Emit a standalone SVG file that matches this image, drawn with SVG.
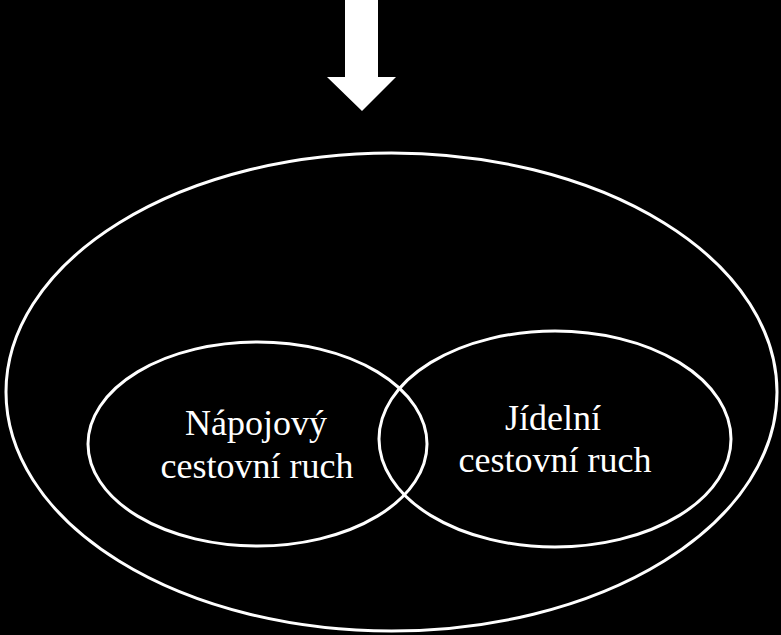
<svg xmlns="http://www.w3.org/2000/svg" width="781" height="635" viewBox="0 0 781 635">
<style>
.ring{fill:none;stroke:#fff;stroke-width:3}
.lbl{fill:#fff;font-family:'Liberation Serif','Times New Roman',serif;font-size:36px;text-anchor:middle}
</style>
<rect x="0" y="0" width="781" height="635" fill="#000"/>
<g id="arrow">
<polygon points="345,0 378,0 378,77 396,77 362,111 327,77 345,77" fill="#fff"/>
</g>
<g id="outer">
<ellipse class="ring" cx="391.5" cy="392" rx="385.5" ry="239"/>
</g>
<g id="napojovy">
<ellipse class="ring" cx="257.5" cy="444" rx="169.5" ry="102"/>
<text class="lbl" font-family="Liberation Serif, serif" x="256" y="435">Nápojový</text>
<text class="lbl" font-family="Liberation Serif, serif" x="257" y="478">cestovní ruch</text>
</g>
<g id="jidelni">
<ellipse class="ring" cx="555" cy="439" rx="176" ry="108"/>
<text class="lbl" font-family="Liberation Serif, serif" x="553" y="430">Jídelní</text>
<text class="lbl" font-family="Liberation Serif, serif" x="555" y="472">cestovní ruch</text>
</g>
<g id="connectors"></g>
</svg>
